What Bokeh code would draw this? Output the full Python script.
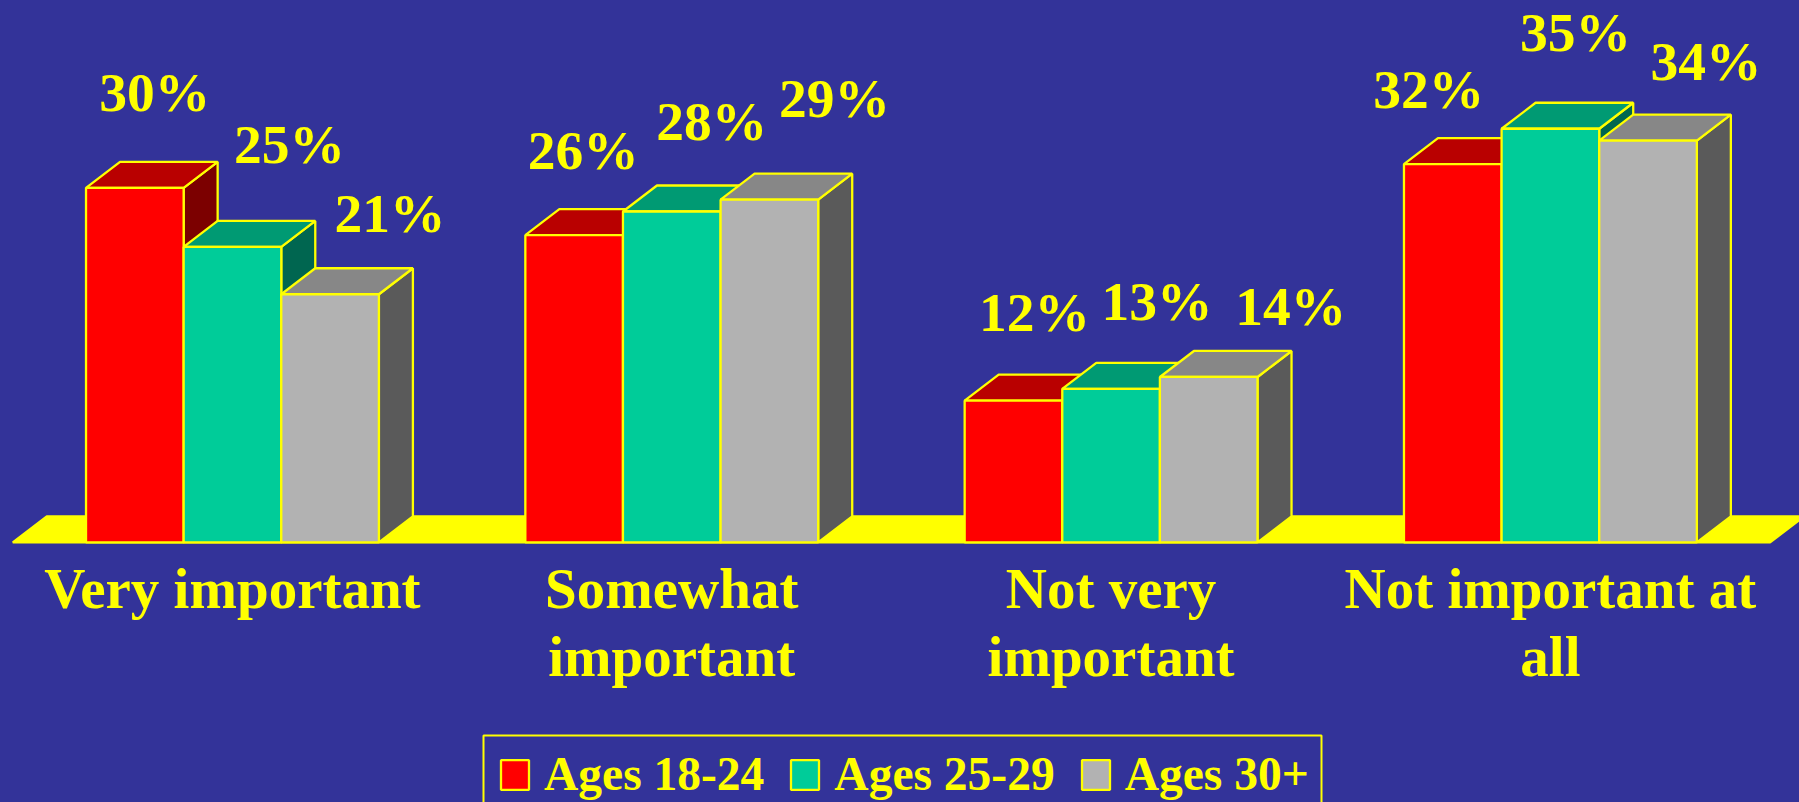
from bokeh.plotting import figure
from bokeh.models import BoxAnnotation, ColumnDataSource, Legend, LegendItem, Range1d
from bokeh.core.properties import value
from bokeh.embed import file_html
from bokeh.resources import INLINE

categories = ["Very important", "Somewhat\nimportant", "Not very\nimportant", "Not important at\nall"]
series_names = ["Ages 18-24", "Ages 25-29", "Ages 30+"]
ages_18_24 = [30, 26, 12, 32]
ages_25_29 = [25, 28, 13, 35]
ages_30_plus = [21, 29, 14, 34]

front_colors = ["#FF0000", "#00CC99", "#B2B2B2"]
top_colors = ["#B90000", "#009A73", "#878787"]
side_colors = ["#7C0000", "#006650", "#5A5A5A"]
BG = "#333399"
YELLOW = "#FFFF00"
FONT = value("Liberation Serif")

# hand-placed data labels: pixel offsets from each bar's front top centre
label_dx = [[20, 9, 21, -24], [57, 40, 46, 25], [60, 65, 82, 58]]
label_dy = [[-95, -85, -88, -75], [-102, -90, -87, -96], [-81, -101, -70, -79]]

BAR = 1 / 4.5          # bar width, gap width 50 %
DX, DY = 0.0774, 2.2   # 3-D depth in data units
EDGE = 2.3

W, H = 1799, 802
p = figure(width=W, height=H, output_backend="svg", toolbar_location=None,
           x_range=Range1d(-0.528, 3.567), y_range=Range1d(-22.0, 45.85),
           x_axis_location=None, y_axis_location=None, min_border=0,
           background_fill_color=None, border_fill_color=BG, outline_line_color=None)
p.styles = {"position": "fixed", "left": "0", "top": "0", "background": BG}
p.grid.visible = False

n = len(categories)
# floor
p.patch([-0.5, n - 0.5, n - 0.5 + DX, -0.5 + DX], [0, 0, DY, DY],
        fill_color=YELLOW, line_color=YELLOW, line_width=EDGE)

legend_items = []
all_values = [ages_18_24, ages_25_29, ages_30_plus]
for j, vals in enumerate(all_values):
    left = [i + (j - 1.5) * BAR for i in range(n)]
    right = [x + BAR for x in left]
    side = dict(
        xs=[[r, r + DX, r + DX, r] for r in right],
        ys=[[0, DY, v + DY, v] for v in vals],
    )
    top = dict(
        xs=[[l, r, r + DX, l + DX] for l, r in zip(left, right)],
        ys=[[v, v, v + DY, v + DY] for v in vals],
    )
    front = dict(
        xs=[[l, r, r, l] for l, r in zip(left, right)],
        ys=[[0, 0, v, v] for v in vals],
    )
    p.patches("xs", "ys", source=ColumnDataSource(side), fill_color=side_colors[j],
              line_color=YELLOW, line_width=EDGE)
    p.patches("xs", "ys", source=ColumnDataSource(top), fill_color=top_colors[j],
              line_color=YELLOW, line_width=EDGE)
    r_front = p.patches("xs", "ys", source=ColumnDataSource(front), fill_color=front_colors[j],
                        line_color=YELLOW, line_width=EDGE)
    legend_items.append(LegendItem(label=series_names[j], renderers=[r_front]))

for j, vals in enumerate(all_values):
    src = ColumnDataSource(dict(
        x=[i + (j - 1) * BAR for i in range(n)],
        y=vals,
        t=[f"{v}%" for v in vals],
        dx=label_dx[j],
        dy=label_dy[j],
    ))
    p.text("x", "y", text="t", source=src, x_offset="dx", y_offset="dy",
           text_font=FONT, text_font_style="bold", text_font_size="55.5px",
           text_color=YELLOW, text_align="center", text_baseline="alphabetic")

# category labels
cat_src = ColumnDataSource(dict(x=list(range(n)), y=[0] * n, t=categories))
p.text("x", "y", text="t", source=cat_src, y_offset=15,
       text_font=FONT, text_font_style="bold", text_font_size="57px",
       text_color=YELLOW, text_align="center", text_baseline="top", text_line_height=1.07)

legend_box = BoxAnnotation(left=483, right=1321, top=67, bottom=-28,
                           left_units="screen", right_units="screen",
                           top_units="screen", bottom_units="screen",
                           fill_alpha=0, line_color=YELLOW, line_width=2, line_alpha=1)
p.add_layout(legend_box)

legend = Legend(items=legend_items, orientation="horizontal", location=(497, 1),
                background_fill_alpha=0, border_line_color=None,
                glyph_width=35, glyph_height=37, label_standoff=12,
                spacing=23, padding=0, margin=0,
                label_text_font="Liberation Serif", label_text_font_style="bold",
                label_text_font_size="47.5px", label_text_color=YELLOW)
p.add_layout(legend, "center")

open("out.html", "w").write(file_html(p, INLINE))
